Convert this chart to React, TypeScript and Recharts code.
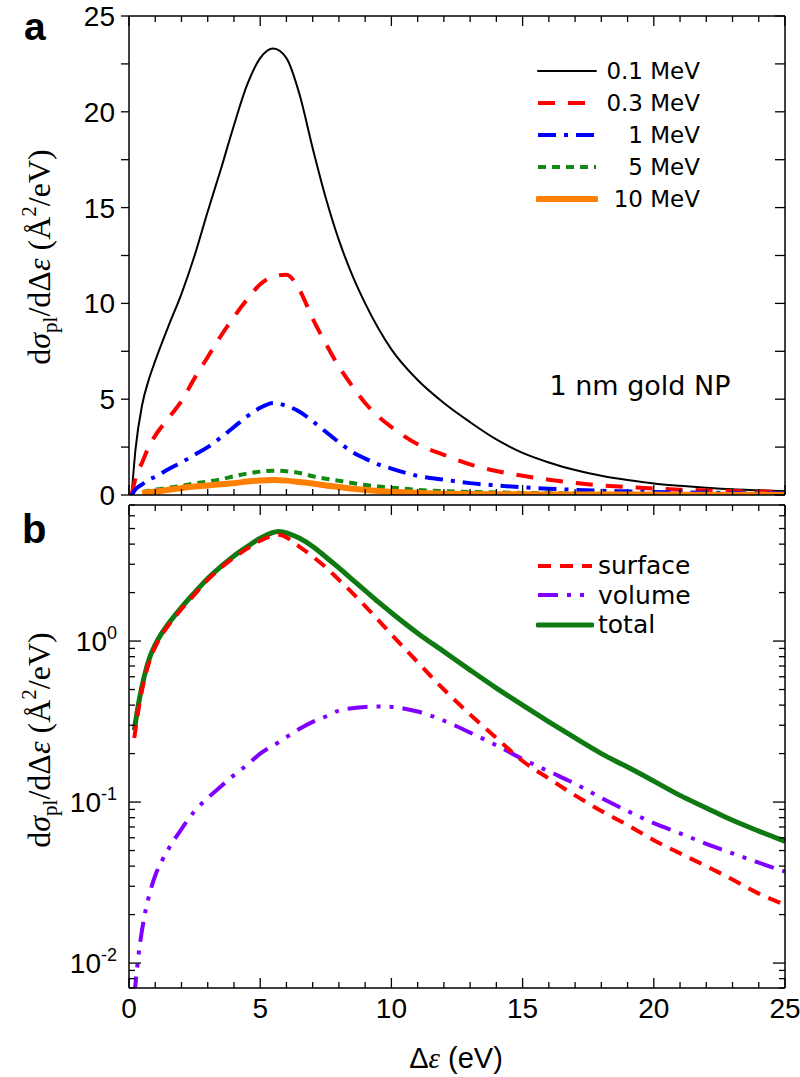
import React from "react";
import { Legend, Line, LineChart, XAxis, YAxis } from "recharts";

// panel (a): energy loss spectra for several proton energies
const energyA = [0.1, 0.25, 0.5, 0.75, 1, 1.5, 2, 2.5, 3, 3.5, 4, 4.5, 5, 5.5, 6, 6.5, 7, 7.5, 8, 8.5, 9, 9.5, 10, 11, 12, 13, 14, 15, 16, 17, 18, 19, 20, 21, 22, 23, 24, 25];
const mev01 = [0, 2.4, 4.7, 6.0, 7.0, 8.8, 10.5, 12.5, 14.8, 17.0, 19.3, 21.4, 22.8, 23.3, 22.8, 20.9, 18.1, 15.5, 13.3, 11.5, 10.0, 8.7, 7.6, 6.0, 4.8, 3.8, 2.9, 2.2, 1.7, 1.3, 1.0, 0.78, 0.6, 0.48, 0.38, 0.3, 0.25, 0.2];
const mev03 = [0, 0.9, 1.7, 2.5, 3.1, 4.0, 4.9, 6.1, 7.2, 8.3, 9.3, 10.2, 11.0, 11.4, 11.5, 10.7, 9.2, 7.9, 6.7, 5.7, 4.8, 4.1, 3.55, 2.65, 2.1, 1.6, 1.25, 1.0, 0.8, 0.63, 0.5, 0.41, 0.34, 0.28, 0.24, 0.21, 0.18, 0.16];
const mev1 = [0, 0.3, 0.55, 0.8, 0.95, 1.35, 1.7, 2.1, 2.5, 3.0, 3.55, 4.1, 4.55, 4.8, 4.65, 4.35, 3.85, 3.3, 2.75, 2.25, 1.9, 1.6, 1.38, 1.0, 0.8, 0.62, 0.5, 0.4, 0.33, 0.27, 0.22, 0.19, 0.16, 0.14, 0.12, 0.1, 0.09, 0.08];
const mev5 = [null, null, 0.15, 0.22, 0.28, 0.38, 0.48, 0.6, 0.7, 0.82, 0.98, 1.12, 1.22, 1.27, 1.24, 1.15, 0.98, 0.85, 0.74, 0.63, 0.52, 0.44, 0.38, 0.27, 0.2, 0.16, 0.13, 0.11, 0.09, 0.08, 0.07, 0.06, 0.055, 0.05, 0.045, 0.04, 0.035, 0.03];
const mev10 = [null, null, 0.1, 0.14, 0.18, 0.27, 0.36, 0.44, 0.5, 0.56, 0.62, 0.7, 0.76, 0.78, 0.75, 0.68, 0.6, 0.5, 0.42, 0.33, 0.27, 0.21, 0.17, 0.11, 0.07, 0.05, 0.04, 0.035, 0.03, 0.025, 0.02, 0.02, 0.02, 0.015, 0.015, 0.01, 0.01, 0.01];

// panel (b): surface / volume decomposition (log scale)
const energyB = [0.2, 0.4, 0.6, 0.8, 1, 1.25, 1.5, 2, 2.5, 3, 3.5, 4, 4.5, 5, 5.7, 6.5, 7, 7.5, 8, 8.5, 9, 9.5, 10, 11, 12, 13, 14, 15, 16, 17, 18, 19, 20, 21, 22, 23, 24, 25];
const total = [0.28, 0.44, 0.62, 0.8, 0.95, 1.12, 1.28, 1.62, 2.0, 2.45, 2.9, 3.38, 3.85, 4.35, 4.8, 4.35, 3.87, 3.33, 2.85, 2.42, 2.06, 1.75, 1.5, 1.12, 0.86, 0.66, 0.51, 0.4, 0.315, 0.25, 0.2, 0.165, 0.135, 0.11, 0.092, 0.077, 0.066, 0.057];
const surface = [0.25, 0.41, 0.59, 0.77, 0.92, 1.09, 1.25, 1.58, 1.95, 2.4, 2.85, 3.3, 3.75, 4.2, 4.57, 3.85, 3.35, 2.87, 2.4, 2.0, 1.65, 1.35, 1.1, 0.74, 0.5, 0.35, 0.25, 0.18, 0.14, 0.11, 0.088, 0.072, 0.058, 0.048, 0.04, 0.033, 0.027, 0.023];
const volume = [0.0062, 0.0125, 0.02, 0.0275, 0.035, 0.043, 0.051, 0.068, 0.088, 0.106, 0.125, 0.147, 0.17, 0.2, 0.235, 0.285, 0.315, 0.34, 0.37, 0.383, 0.39, 0.392, 0.39, 0.365, 0.32, 0.27, 0.225, 0.185, 0.155, 0.13, 0.106, 0.088, 0.074, 0.064, 0.055, 0.048, 0.042, 0.037];

const xTicks = Array.from({ length: 26 }, (_, i) => i);
const yTicksA = [0, 2.5, 5, 7.5, 10, 12.5, 15, 17.5, 20, 22.5, 25];
const yTicksB = [
  0.007, 0.008, 0.009, 0.01, 0.02, 0.03, 0.04, 0.05, 0.06, 0.07, 0.08, 0.09,
  0.1, 0.2, 0.3, 0.4, 0.5, 0.6, 0.7, 0.8, 0.9, 1, 2, 3, 4, 5, 6, 7,
];
const decadeLabels: Record<string, string> = { "0.01": "-2", "0.1": "-1", "1": "0" };

const seriesA = [
  { key: "m01", name: "0.1 MeV", color: "#000000", width: 2, dash: undefined },
  { key: "m03", name: "0.3 MeV", color: "#ff0000", width: 4, dash: "17 13" },
  { key: "m1", name: "1 MeV", color: "#0000ff", width: 4, dash: "18 8 4 8" },
  { key: "m5", name: "5 MeV", color: "#138a13", width: 4, dash: "8 6" },
  { key: "m10", name: "10 MeV", color: "#ff8000", width: 6, dash: undefined },
];
const seriesB = [
  { key: "total", name: "total", color: "#0f7a12", width: 5, dash: undefined },
  { key: "volume", name: "volume", color: "#8000ff", width: 4, dash: "20 9 4 9 4 9" },
  { key: "surface", name: "surface", color: "#ff0000", width: 4, dash: "13 9" },
];
const legendOrderB = ["surface", "volume", "total"];

const dataA = energyA.map((x, i) => ({
  x,
  m01: mev01[i],
  m03: mev03[i],
  m1: mev1[i],
  m5: mev5[i],
  m10: mev10[i],
}));
const dataB = energyB.map((x, i) => ({
  x,
  total: total[i],
  surface: surface[i],
  volume: volume[i],
}));

const tickFont = "'Liberation Sans Narrow', 'Liberation Sans', Arial, sans-serif";
const letterFont = "'Liberation Sans', Arial, sans-serif";
const legendFont = "'DejaVu Sans', sans-serif";
const serifFont = "'Liberation Serif', 'DejaVu Serif', serif";
const AX = "#000";

// x ticks: 1 eV minor, 5 eV major; dir points into the plot
function xTick(dir: 1 | -1, showLabels: boolean) {
  return (props: any) => {
    const { x, y, payload } = props;
    const v = payload.value;
    const major = v % 5 === 0;
    return (
      <g>
        <line x1={x} x2={x} y1={y} y2={y + dir * (major ? 10 : 6)} stroke={AX} strokeWidth={1.3} />
        {showLabels && major && (
          <text x={x} y={y + 30} textAnchor="middle" fontFamily={tickFont} fontSize={28} fill="#000">
            {v}
          </text>
        )}
      </g>
    );
  };
}

function yTickLinear(side: "left" | "right") {
  return (props: any) => {
    const { x, y, payload } = props;
    const v = payload.value;
    const major = v % 5 === 0;
    if (side === "right") {
      return <line x1={x} x2={x - 10} y1={y} y2={y} stroke={AX} strokeWidth={1.3} />;
    }
    return (
      <g>
        <line x1={x} x2={x - 8} y1={y} y2={y} stroke={AX} strokeWidth={1.3} />
        {major && (
          <text x={x - 14} y={y + 10} textAnchor="end" fontFamily={tickFont} fontSize={28} fill="#000">
            {v}
          </text>
        )}
      </g>
    );
  };
}

function yTickLog(side: "left" | "right") {
  return (props: any) => {
    const { x, y, payload } = props;
    const exp = decadeLabels[String(payload.value)];
    const len = exp !== undefined ? 12 : 6;
    const dir = side === "left" ? 1 : -1;
    return (
      <g>
        <line x1={x} x2={x + dir * len} y1={y} y2={y} stroke={AX} strokeWidth={1.3} />
        {side === "left" && exp !== undefined && (
          <text x={x - 12} y={y + 10} textAnchor="end" fontFamily={tickFont} fontSize={28} fill="#000">
            10
            <tspan dy={-12} fontSize={18}>
              {exp}
            </tspan>
          </text>
        )}
      </g>
    );
  };
}

function SampleLine({ color, width, dash, len }: { color: string; width: number; dash?: string; len: number }) {
  return (
    <svg width={len + 4} height={12} style={{ display: "block" }}>
      <line x1={2} x2={len + 2} y1={6} y2={6} stroke={color} strokeWidth={width} strokeDasharray={dash} strokeLinecap={dash ? "butt" : "round"} />
    </svg>
  );
}

function LegendA() {
  return (
    <div style={{ fontFamily: legendFont, fontSize: 23, color: "#000" }}>
      {seriesA.map((s) => (
        <div key={s.key} style={{ display: "flex", alignItems: "center", height: 32 }}>
          <SampleLine color={s.color} width={s.width} dash={s.dash} len={58} />
          <span style={{ width: 102, textAlign: "right", lineHeight: "32px" }}>{s.name}</span>
        </div>
      ))}
    </div>
  );
}

function LegendB() {
  return (
    <div style={{ fontFamily: legendFont, fontSize: 25, color: "#000" }}>
      {legendOrderB.map((k) => {
        const s = seriesB.find((d) => d.key === k)!;
        return (
          <div key={k} style={{ display: "flex", alignItems: "center", height: 29.5 }}>
            <SampleLine color={s.color} width={s.width} dash={s.dash} len={54} />
            <span style={{ paddingLeft: 4, lineHeight: "29px" }}>{s.name}</span>
          </div>
        );
      })}
    </div>
  );
}

function YTitle({ cx, cy }: { cx: number; cy: number }) {
  return (
    <text transform={`translate(${cx},${cy}) rotate(-90)`} textAnchor="middle" fontFamily={serifFont} fontSize={32} fill="#000">
      d<tspan fontStyle="italic">σ</tspan>
      <tspan fontSize={21} dy={7}>pl</tspan>
      <tspan dy={-7}>/dΔ</tspan>
      <tspan fontStyle="italic">ε</tspan> (Å
      <tspan fontSize={21} dy={-14}>2</tspan>
      <tspan dy={14}>/eV)</tspan>
    </text>
  );
}

const frame = { stroke: AX, strokeWidth: 1.5 };

export default function App() {
  return (
    <div style={{ position: "absolute", left: 0, top: 0, width: 800, height: 1077, background: "#fff" }}>
      <div style={{ position: "absolute", left: 0, top: 0 }}>
        <LineChart width={800} height={520} data={dataA} margin={{ top: 15, right: 14, bottom: 24, left: 128 }}>
          <XAxis xAxisId="b" dataKey="x" type="number" domain={[0, 25]} ticks={xTicks} interval={0} height={1} tickSize={0} tickMargin={0} tickLine={false} axisLine={frame} tick={xTick(-1, false)} />
          <XAxis xAxisId="t" orientation="top" dataKey="x" type="number" domain={[0, 25]} ticks={xTicks} interval={0} height={1} tickSize={0} tickMargin={0} tickLine={false} axisLine={frame} tick={xTick(1, false)} />
          <YAxis yAxisId="l" type="number" domain={[0, 25]} ticks={yTicksA} interval={0} width={1} tickSize={0} tickMargin={0} tickLine={false} axisLine={frame} tick={yTickLinear("left")} allowDataOverflow />
          <YAxis yAxisId="r" orientation="right" type="number" domain={[0, 25]} ticks={yTicksA} interval={0} width={1} tickSize={0} tickMargin={0} tickLine={false} axisLine={frame} tick={yTickLinear("right")} allowDataOverflow />
          {seriesA.map((s) => (
            <Line
              key={s.key}
              xAxisId="b"
              yAxisId="l"
              dataKey={s.key}
              name={s.name}
              type="monotone"
              stroke={s.color}
              strokeWidth={s.width}
              strokeDasharray={s.dash}
              dot={false}
              activeDot={false}
              isAnimationActive={false}
            />
          ))}
          <Legend layout="vertical" align="center" verticalAlign="middle" wrapperStyle={{ left: 536, top: 55, width: 180 }} content={() => <LegendA />} />
        </LineChart>
      </div>

      <div style={{ position: "absolute", left: 0, top: 500 }}>
        <LineChart width={800} height={577} data={dataB} margin={{ top: 4, right: 14, bottom: 88, left: 128 }}>
          <XAxis xAxisId="b" dataKey="x" type="number" domain={[0, 25]} ticks={xTicks} interval={0} height={1} tickSize={0} tickMargin={0} tickLine={false} axisLine={frame} tick={xTick(-1, true)} />
          <XAxis xAxisId="t" orientation="top" dataKey="x" type="number" domain={[0, 25]} ticks={xTicks} interval={0} height={1} tickSize={0} tickMargin={0} tickLine={false} axisLine={frame} tick={xTick(1, false)} />
          <YAxis yAxisId="l" type="number" scale="log" domain={[0.007, 7]} ticks={yTicksB} interval={0} width={1} tickSize={0} tickMargin={0} tickLine={false} axisLine={frame} tick={yTickLog("left")} allowDataOverflow />
          <YAxis yAxisId="r" orientation="right" type="number" scale="log" domain={[0.007, 7]} ticks={yTicksB} interval={0} width={1} tickSize={0} tickMargin={0} tickLine={false} axisLine={frame} tick={yTickLog("right")} allowDataOverflow />
          {seriesB.map((s) => (
            <Line
              key={s.key}
              xAxisId="b"
              yAxisId="l"
              dataKey={s.key}
              name={s.name}
              type="monotone"
              stroke={s.color}
              strokeWidth={s.width}
              strokeDasharray={s.dash}
              dot={false}
              activeDot={false}
              isAnimationActive={false}
            />
          ))}
          <Legend layout="vertical" align="center" verticalAlign="middle" wrapperStyle={{ left: 536, top: 51, width: 180 }} content={() => <LegendB />} />
        </LineChart>
      </div>

      {/* panel letters, axis titles and annotation */}
      <svg width={800} height={1077} style={{ position: "absolute", left: 0, top: 0, pointerEvents: "none" }}>
        <text x={24} y={40} fontFamily={letterFont} fontWeight="bold" fontSize={39} fill="#000">a</text>
        <text x={22} y={543} fontFamily={letterFont} fontWeight="bold" fontSize={40} fill="#000">b</text>
        <YTitle cx={50} cy={257} />
        <YTitle cx={50} cy={740} />
        <text x={640} y={395} textAnchor="middle" fontFamily={legendFont} fontSize={27} fill="#000">1 nm gold NP</text>
        <text x={456} y={1068} textAnchor="middle" fontFamily={letterFont} fontSize={29} fill="#000">
          Δ<tspan fontFamily={serifFont} fontStyle="italic">ε</tspan> (eV)
        </text>
      </svg>
    </div>
  );
}
